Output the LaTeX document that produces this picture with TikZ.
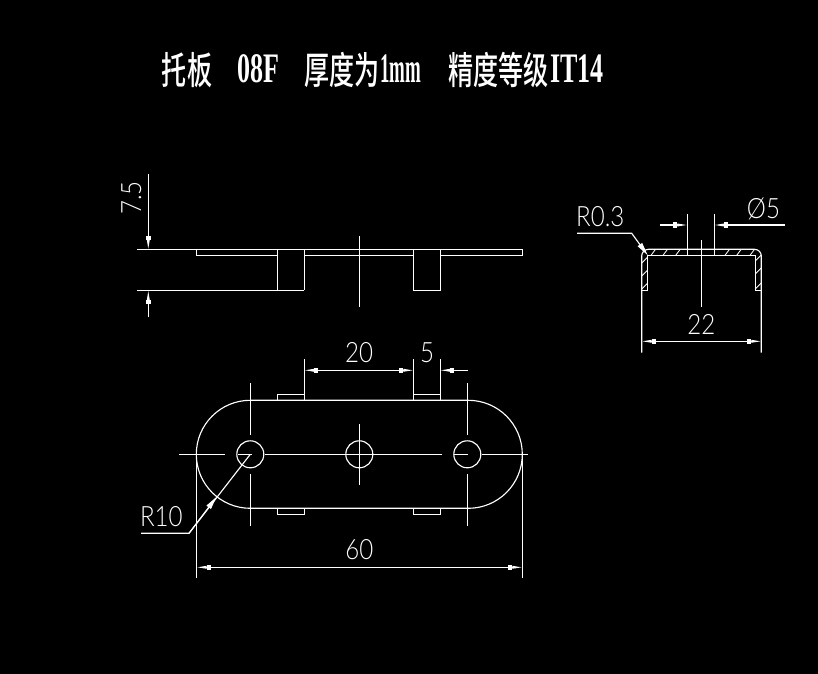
\documentclass[tikz,border=0pt]{standalone}
\usepackage{fontspec}
\usetikzlibrary{arrows.meta}
\newfontfamily\dimfont{Lato}[UprightFont=* Light,FakeStretch=.86]
\newfontfamily\titlefont{Noto Sans CJK SC}[UprightFont=* Medium,FakeStretch=.66]
\newfontfamily\titlelatin{Liberation Serif}[UprightFont=* Bold,FakeStretch=.62]
\newfontfamily\titlemm{Liberation Serif}[UprightFont=* Bold,FakeStretch=.45]
\definecolor{cadbg}{RGB}{0,0,0}
\tikzset{
  part/.style={draw=white,line width=.85pt},
  thin part/.style={draw=white,line width=.65pt},
  dimtip/.style={-{Rectangle[length=3pt,width=3.8pt,sep=0pt]Triangle[length=7.5pt,width=2pt]}},
  leadtip/.style={-{Triangle[length=10pt,width=4pt]}},
  dimtext/.style={text=white,inner sep=0pt,anchor=base,font=\dimfont\fontsize{21pt}{24pt}\selectfont},
  cjk/.style={text=white,inner sep=0pt,font=\titlefont\fontsize{28.5pt}{30pt}\selectfont},
  latin/.style={text=white,inner sep=0pt,anchor=base,font=\titlelatin\fontsize{31.5pt}{34pt}\selectfont},
}
\begin{document}
\begin{tikzpicture}[x=.75pt,y=-.75pt]
  \fill[cadbg] (0,0) rectangle (818,674);
  \useasboundingbox (0,0) rectangle (818,674);
  % title
  \node[cjk] (tuoban) at (187,70) {托板};
  \node[latin] (grade) at (258,83) {08F};
  \node[cjk] (thick) at (342,70) {厚度为};
  \node[latin,font=\titlemm\fontsize{31.5pt}{34pt}\selectfont] (onemm) at (401,83) {1mm};
  \node[cjk] (level) at (498.5,70) {精度等级};
  \node[latin] (itgrade) at (577,83) {IT14};
  % side view
  \pgfmathsetmacro{\topy}{249.5}
  \pgfmathsetmacro{\lowy}{255.3}
  \pgfmathsetmacro{\tabb}{290.3}
  \draw[part] (137,\topy) -- (522.7,\topy) -- (522.7,\lowy) -- (440.3,\lowy) (413.3,\lowy) -- (304.3,\lowy) (277.3,\lowy) -- (196.3,\lowy) -- (196.3,\topy);
  \draw[part] (137,\tabb) -- (304.3,\tabb) (277.3,\topy) -- (277.3,\tabb) (304.3,\topy) -- (304.3,\tabb);
  \draw[part] (413.3,\topy) -- (413.3,\tabb) -- (440.3,\tabb) -- (440.3,\topy);
  \draw[part] (359.3,236) -- (359.3,306.7);
  \draw[part,dimtip] (148.3,174) -- (148.3,\topy);
  \draw[part,dimtip] (148.3,317) -- (148.3,\tabb);
  \node[dimtext,rotate=90] (seven) at (141,198) {7.5};
  % end section
  \draw[part] (641.7,352.7) -- (641.7,256) arc (180:270:6.7) -- (754.6,249.3) arc (-90:0:6.7) -- (761.3,352.7);
  \draw[part] (641.7,290.3) -- (647.7,290.3) -- (647.7,255.3) -- (755.3,255.3) -- (755.3,290.3) -- (761.3,290.3);
  \draw[part] (701.3,240) -- (701.3,306.7);
  \draw[part] (687.3,214) -- (687.3,255.3) (714.3,214) -- (714.3,255.3);
  \foreach \X in {651,663,675.7,725,736.7,750} {%
    \draw[thin part] (\X,255.3) -- +(4.5,-6);
  }
  \foreach \Y in {263,276,289} {%
    \draw[thin part] (641.7,\Y) -- +(6,-6);
  }
  \foreach \Y in {261,274,289} {%
    \draw[thin part] (755.3,\Y) -- +(6,-6);
  }
  \draw[part,dimtip] (660,225) -- (687.3,225);
  \draw[part,dimtip] (785,225) -- (714.3,225);
  \draw[part,dimtip] (701.3,341.3) -- (641.7,341.3);
  \draw[part,dimtip] (701.3,341.3) -- (761.3,341.3);
  \draw[part,leadtip] (577,233.3) -- (631.7,233.3) -- (647.7,255.3);
  \node[dimtext] (phi) at (763.5,218.3) {Ø5};
  \node[dimtext] (rsmall) at (600.3,226) {R0.3};
  \node[dimtext] (wide) at (701.3,334) {22};
  % plan view
  \pgfmathsetmacro{\midy}{454.3}
  \pgfmathsetmacro{\rad}{54}
  \draw[part] (250.3,400.3) -- (468.3,400.3) arc (-90:90:\rad) -- (250.3,508.3) arc (90:270:\rad);
  \foreach \X in {250.3,359.3,467.3} {%
    \draw[part] (\X,\midy) circle (13.5);
  }
  \foreach \X in {277.3,413.3} {%
    \draw[part] (\X,400.3) -- (\X,394.3) -- ({\X+27},394.3) -- ({\X+27},400.3);
    \draw[part] (\X,508.3) -- (\X,514.3) -- ({\X+27},514.3) -- ({\X+27},508.3);
  }
  \foreach \X in {250.3,467.3} {%
    \draw[part] (\X,383.3) -- (\X,435) (\X,474) -- (\X,525.7);
  }
  \draw[part] (359.3,424.3) -- (359.3,485);
  \draw[part] (179,\midy) -- (225,\midy) (238,\midy) -- (251.7,\midy) (265,\midy) -- (441.7,\midy) (454,\midy) -- (468,\midy) (481.7,\midy) -- (528,\midy);
  \foreach \X in {304.3,413.3,440.3} {%
    \draw[part] (\X,394.3) -- (\X,359.3);
  }
  \draw[part,dimtip] (359,370.3) -- (304.3,370.3);
  \draw[part,dimtip] (359,370.3) -- (413.3,370.3);
  \draw[part,dimtip] (467.7,370.3) -- (440.3,370.3);
  \draw[part] (196.7,454.3) -- (196.7,578) (522.3,454.3) -- (522.3,578);
  \draw[part,dimtip] (359.3,567.3) -- (196.7,567.3);
  \draw[part,dimtip] (359.3,567.3) -- (522.3,567.3);
  \draw[part] (141,533.3) -- (189,533.3) -- (250.3,454.3);
  \draw[part,leadtip] (189,533.3) -- (216.7,496.7);
  \node[dimtext] (twenty) at (359,362.7) {20};
  \node[dimtext] (five) at (427,362.7) {5};
  \node[dimtext] (sixty) at (359.3,559.3) {60};
  \node[dimtext] (rbig) at (161.3,526) {R10};
\end{tikzpicture}
\end{document}
